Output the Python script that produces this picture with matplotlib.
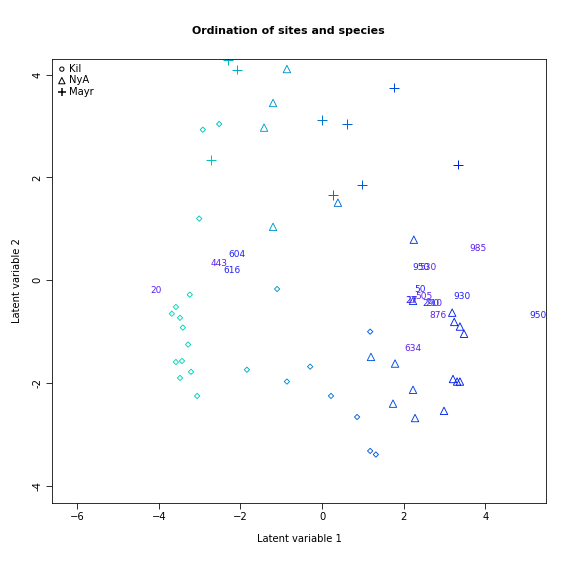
import matplotlib
matplotlib.use("Agg")
import matplotlib.pyplot as plt

# Kil sites (circles)
kil_x = [-2.92, -2.52, -3.01, -1.10, -3.24, -3.58, -3.68, -3.48, -3.41, -3.28, -3.58, -3.43,
         -3.21, -3.48, -1.84, -3.06, -0.86, -0.29, 0.22, 0.86, 1.18, 1.18, 1.32]
kil_y = [2.93, 3.04, 1.20, -0.17, -0.28, -0.52, -0.65, -0.73, -0.92, -1.25, -1.59, -1.57,
         -1.78, -1.90, -1.74, -2.25, -1.97, -1.68, -2.25, -2.66, -1.00, -3.32, -3.39]
# NyA sites (triangles)
nya_x = [-0.86, -1.20, -1.42, -1.20, 0.39, 2.25, 2.23, 3.19, 3.24, 3.38, 3.48, 1.20, 1.79,
         1.74, 2.23, 2.28, 2.99, 3.21, 3.31, 3.38]
nya_y = [4.11, 3.45, 2.97, 1.04, 1.51, 0.79, -0.40, -0.63, -0.81, -0.90, -1.04, -1.49, -1.62,
         -2.40, -2.13, -2.68, -2.54, -1.92, -1.97, -1.97]
# Mayr sites (crosses)
mayr_x = [-2.30, -2.08, -2.72, 0.0, 0.61, 1.76, 0.27, 0.98, 3.33]
mayr_y = [4.29, 4.10, 2.34, 3.12, 3.04, 3.75, 1.66, 1.86, 2.25]
# species labels
sp_lab = ["985", "950", "530", "50", "505", "27", "17", "290", "210", "930", "876", "950",
          "634", "604", "443", "616", "20"]
sp_x = [3.82, 2.43, 2.60, 2.40, 2.50, 2.18, 2.23, 2.67, 2.75, 3.43, 2.84, 5.29, 2.23,
        -2.08, -2.52, -2.21, -4.07]
sp_y = [0.61, 0.24, 0.24, -0.18, -0.32, -0.40, -0.40, -0.46, -0.46, -0.32, -0.69, -0.69,
        -1.33, 0.50, 0.32, 0.20, -0.20]


def site_colour(x):
    # cyan-green on the left fading to blue on the right
    t = min(max((x + 4) / 7.5, 0), 1)
    return (0.0, 0.9 * (1 - t) + 0.1 * t, 0.7 * (1 - t) + 0.95 * t)


fig = plt.figure(figsize=(8, 8), dpi=72)
ax = fig.add_axes([0.090, 0.127, 0.858, 0.771])

ax.scatter(kil_x, kil_y, marker="D", s=14, facecolors="none",
           edgecolors=[site_colour(x) for x in kil_x], linewidths=0.9)
ax.scatter(nya_x, nya_y, marker="^", s=55, facecolors="none",
           edgecolors=[site_colour(x) for x in nya_x], linewidths=0.9)
ax.scatter(mayr_x, mayr_y, marker="+", s=90,
           c=[site_colour(x) for x in mayr_x], linewidths=1.0)
for i, (lab, x, y) in enumerate(zip(sp_lab, sp_x, sp_y)):
    col = "#2020ff" if i % 2 else "#5a20f0"
    ax.text(x, y, lab, color=col, fontsize=9, ha="center", va="center")

# legend in R style
ax.scatter([], [], marker="o", s=18, facecolors="none", edgecolors="black", label="Kil")
ax.scatter([], [], marker="^", s=40, facecolors="none", edgecolors="black", label="NyA")
ax.scatter([], [], marker="+", s=50, c="black", label="Mayr")
ax.legend(loc="upper left", frameon=False, fontsize=10, handletextpad=0.2,
          borderaxespad=0.1, labelspacing=0.15, handlelength=1.0)

ax.set_xlim(-6.62, 5.49)
ax.set_ylim(-4.33, 4.31)
ax.set_xticks([-6, -4, -2, 0, 2, 4])
ax.set_yticks([-4, -2, 0, 2, 4])
ax.set_yticklabels(["-4", "-2", "0", "2", "4"], rotation=90, va="center")
ax.tick_params(labelsize=10, direction="out", length=6)
ax.set_xlabel("Latent variable 1", fontsize=10, labelpad=12)
ax.set_ylabel("Latent variable 2", fontsize=10, labelpad=10)
fig.suptitle("Ordination of sites and species", y=0.955, fontsize=11, fontweight="bold")

fig.savefig("out.png", dpi=72)
